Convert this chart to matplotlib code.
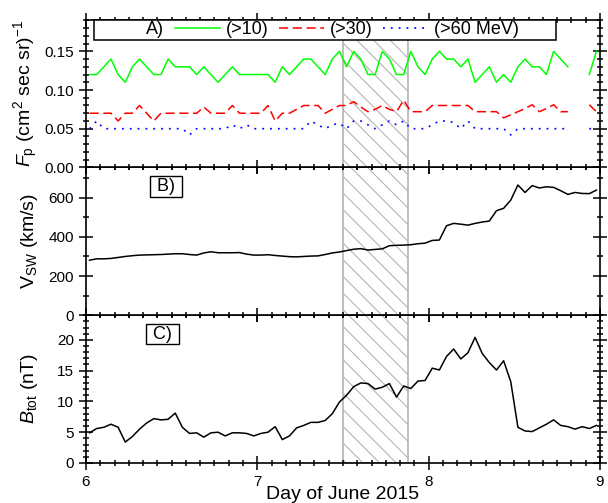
#!/usr/bin/env python3
# -*- coding: utf-8 -*-
"""
Three stacked panels: proton flux, solar wind speed and |B| for 6-9 June 2015.
"""

import numpy as np
import matplotlib
matplotlib.use("Agg")
import matplotlib.pyplot as plt
from matplotlib.ticker import MultipleLocator
from matplotlib.lines import Line2D

nan = np.nan

# hourly samples, day 6 00:30 ... day 8 23:30
hours = np.arange(72)
day = 6 + (hours + 0.5) / 24.0

flux_10 = [0.12, 0.12, 0.13, 0.14, 0.12, 0.11, 0.13, 0.14, 0.13, 0.12, 0.12, 0.14,
           0.13, 0.13, 0.13, 0.12, 0.13, 0.12, 0.11, 0.12, 0.13, 0.12, 0.12, 0.12,
           0.12, 0.12, 0.11, 0.13, 0.12, 0.13, 0.14, 0.14, 0.13, 0.12, 0.14, 0.15,
           0.13, 0.15, 0.14, 0.12, 0.12, 0.15, 0.14, 0.12, 0.12, 0.15, 0.13, 0.12,
           0.14, 0.15, 0.14, 0.14, 0.13, 0.14, 0.11, 0.12, 0.13, 0.11, 0.12, 0.11,
           0.13, 0.14, 0.13, 0.13, 0.12, 0.15, 0.14, 0.13, nan, nan, 0.12, 0.15]

flux_30 = [0.07, 0.07, 0.07, 0.07, 0.06, 0.07, 0.07, 0.08, 0.07, 0.06, 0.07, 0.07,
           0.07, 0.07, 0.07, 0.07, 0.078, 0.07, 0.07, 0.07, 0.08, 0.07, 0.07, 0.07,
           0.07, 0.08, 0.06, 0.07, 0.07, 0.075, 0.08, 0.08, 0.08, 0.07, 0.075, 0.08,
           0.08, 0.085, 0.078, 0.072, 0.075, 0.08, 0.075, 0.072, 0.087, 0.072, 0.072, 0.072,
           0.08, 0.08, 0.08, 0.08, 0.08, 0.08, 0.072, 0.072, 0.072, 0.072, 0.064, 0.068,
           0.072, 0.076, 0.081, 0.072, 0.076, 0.081, 0.072, 0.072, nan, nan, 0.081, 0.072]

flux_60 = [0.05, 0.06, 0.05, 0.05, 0.05, 0.05, 0.05, 0.05, 0.05, 0.05, 0.05, 0.05,
           0.05, 0.05, 0.042, 0.05, 0.05, 0.05, 0.05, 0.05, 0.055, 0.05, 0.055, 0.05,
           0.05, 0.05, 0.05, 0.05, 0.05, 0.05, 0.05, 0.06, 0.055, 0.05, 0.055, 0.057,
           0.05, 0.06, 0.06, 0.055, 0.05, 0.055, 0.06, 0.055, 0.06, 0.05, 0.05, 0.05,
           0.055, 0.06, 0.06, 0.058, 0.05, 0.06, 0.05, 0.05, 0.05, 0.05, 0.05, 0.042,
           0.05, 0.05, 0.05, 0.05, 0.05, 0.05, 0.05, 0.05, nan, nan, 0.05, 0.05]

v_sw = [281, 288, 288, 290, 295, 300, 304, 307, 308, 309, 310, 312,
        314, 314, 310, 307, 318, 324, 319, 319, 319, 320, 312, 307,
        307, 309, 305, 302, 299, 298, 300, 302, 303, 310, 318, 323,
        330, 337, 340, 333, 336, 339, 355, 357, 358, 360, 365, 368,
        382, 384, 457, 469, 465, 460, 469, 476, 481, 534, 546, 588,
        665, 627, 662, 650, 656, 653, 636, 617, 627, 622, 621, 639]

b_tot = [4.9, 5.6, 5.8, 6.3, 5.8, 3.4, 4.3, 5.5, 6.5, 7.2, 7.0, 7.1,
         8.1, 5.8, 4.8, 4.9, 4.2, 4.9, 5.0, 4.4, 4.9, 4.9, 4.8, 4.4,
         4.8, 5.0, 5.9, 3.8, 4.4, 5.7, 6.1, 6.6, 6.6, 6.9, 8.0, 9.9,
         11.0, 12.4, 13.0, 12.9, 12.0, 12.3, 12.9, 10.7, 12.5, 12.1, 13.3, 13.4,
         15.4, 15.1, 17.3, 18.5, 16.9, 17.9, 20.4, 17.8, 16.3, 15.1, 16.6, 13.2,
         5.8, 5.2, 5.1, 5.7, 6.3, 7.0, 6.1, 5.9, 5.5, 5.9, 5.6, 6.1]

# shaded interval (days)
shade = (7.5, 7.88)

# ----------------------------
# Style
# ----------------------------
plt.rcParams["font.family"] = ["Liberation Sans", "DejaVu Sans"]
plt.rcParams["mathtext.fontset"] = "custom"
plt.rcParams["mathtext.rm"] = "Liberation Sans"
plt.rcParams["mathtext.it"] = "Liberation Sans:italic"
plt.rcParams["axes.linewidth"] = 1.2
plt.rcParams["hatch.linewidth"] = 0.8


def style_axis(ax, ymaj, ymin):
    ax.set_xlim(6, 9)
    ax.xaxis.set_major_locator(MultipleLocator(1))
    ax.xaxis.set_minor_locator(MultipleLocator(1 / 12))
    ax.yaxis.set_major_locator(MultipleLocator(ymaj))
    ax.yaxis.set_minor_locator(MultipleLocator(ymin))
    ax.tick_params(which="both", direction="inout", top=True, right=True,
                   labelsize=11, width=1.1)
    ax.tick_params(which="major", length=10)
    ax.tick_params(which="minor", length=5)
    ax.axvspan(*shade, facecolor="none", edgecolor="#b4b4b4", hatch="\\\\",
               linewidth=1.2, zorder=0)


def main():
    fig = plt.figure(figsize=(6.08, 5.03), dpi=100)
    left, width = 86 / 608, 514 / 608
    ph = 147.8 / 503
    bot = 40 / 503
    axC = fig.add_axes([left, bot, width, ph])
    axB = fig.add_axes([left, bot + ph, width, ph], sharex=axC)
    axA = fig.add_axes([left, bot + 2 * ph, width, ph], sharex=axC)

    # --- A) proton flux
    style_axis(axA, 0.05, 0.01)
    axA.plot(day, flux_10, color="#00ff00", lw=1.1)
    axA.plot(day, flux_30, color="#ff0000", lw=1.1, linestyle=(0, (6, 3)))
    axA.plot(day, flux_60, color="#0000ff", lw=1.2, linestyle=(0, (1.1, 3.6)))
    axA.set_ylim(0, 0.191)
    axA.yaxis.set_major_formatter(matplotlib.ticker.FormatStrFormatter("%.2f"))
    axA.set_ylabel(r"$F_\mathrm{p}$ (cm$^2$ sec sr)$^{-1}$", fontsize=14)
    axA.tick_params(labelbottom=False)

    handles = [Line2D([], [], color="none"),
               Line2D([], [], color="#00ff00", lw=1.1),
               Line2D([], [], color="#ff0000", lw=1.1, linestyle=(0, (6, 3))),
               Line2D([], [], color="#0000ff", lw=1.2, linestyle=(0, (1.1, 3.6)))]
    labels = ["A)", "(>10)", "(>30)", "(>60 MeV)       "]
    leg = axA.legend(handles, labels, ncol=4, loc="upper left",
                     bbox_to_anchor=(0.0156, 1.0), fontsize=13, frameon=True,
                     fancybox=False, borderpad=0.1, borderaxespad=0,
                     handlelength=2.5, handletextpad=0.3, columnspacing=0.6)
    leg.get_frame().set_edgecolor("black")
    leg.get_frame().set_linewidth(1.1)
    leg.get_frame().set_alpha(None)

    box = dict(boxstyle="square,pad=0.1", fc="white", ec="black", lw=1.0)

    # --- B) solar wind speed
    style_axis(axB, 200, 100)
    axB.plot(day, v_sw, color="black", lw=1.1)
    axB.set_ylim(0, 755)
    axB.set_ylabel(r"V$_\mathrm{SW}$ (km/s)", fontsize=14)
    axB.tick_params(labelbottom=False)
    axB.text(0.156, 0.872, " B) ", transform=axB.transAxes, fontsize=13,
             ha="center", va="center", bbox=box)

    # --- C) magnetic field
    style_axis(axC, 5, 1)
    axC.plot(day, b_tot, color="black", lw=1.1)
    axC.set_ylim(0, 24)
    axC.set_ylabel(r"$B_\mathrm{tot}$ (nT)", fontsize=14)
    axC.set_xlabel("Day of June 2015", fontsize=14, labelpad=-2)
    axC.text(0.149, 0.872, " C) ", transform=axC.transAxes, fontsize=13,
             ha="center", va="center", bbox=box)

    for ax in (axA, axB, axC):
        ax.yaxis.set_label_coords(-0.09, 0.5)

    fig.savefig("out.png", dpi=100)


if __name__ == "__main__":
    main()
